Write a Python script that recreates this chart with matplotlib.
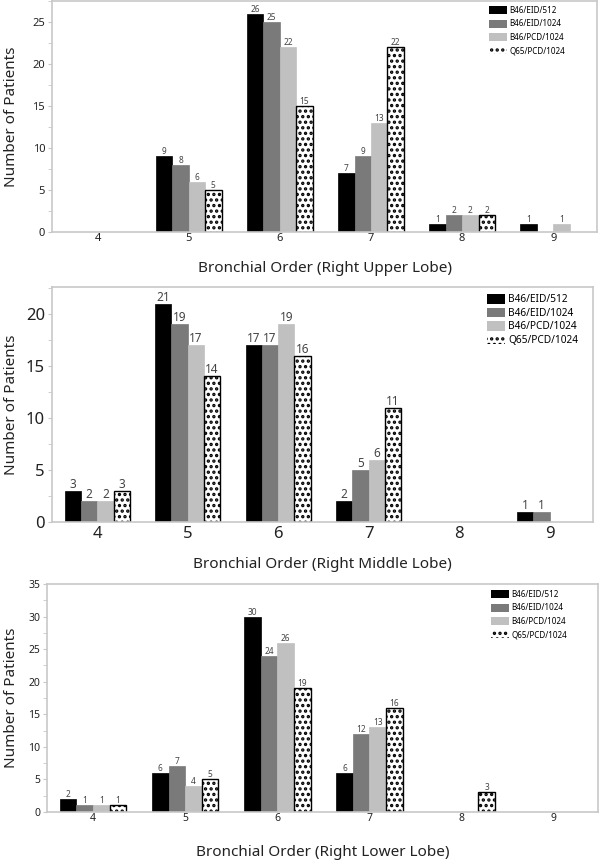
import matplotlib
matplotlib.use("Agg")
import matplotlib.pyplot as plt
from matplotlib.patches import Patch
from matplotlib.ticker import MultipleLocator
import numpy as np

plt.rcParams['font.family'] = ['Noto Sans', 'DejaVu Sans']
plt.rcParams['hatch.color'] = 'black'
plt.rcParams['hatch.linewidth'] = 1.6

# bronchial orders on the x axis
orders = [4, 5, 6, 7, 8, 9]
series_names = ["B46/EID/512", "B46/EID/1024", "B46/PCD/1024", "Q65/PCD/1024"]

# number of patients, one list per series (upper / middle / lower lobe)
upper_eid512 = [0, 9, 26, 7, 1, 1]
upper_eid1024 = [0, 8, 25, 9, 2, 0]
upper_pcd1024 = [0, 6, 22, 13, 2, 1]
upper_q65 = [0, 5, 15, 22, 2, 0]

middle_eid512 = [3, 21, 17, 2, 0, 1]
middle_eid1024 = [2, 19, 17, 5, 0, 1]
middle_pcd1024 = [2, 17, 19, 6, 0, 0]
middle_q65 = [3, 14, 16, 11, 0, 0]

lower_eid512 = [2, 6, 30, 6, 0, 0]
lower_eid1024 = [1, 7, 24, 12, 0, 0]
lower_pcd1024 = [1, 4, 26, 13, 0, 0]
lower_q65 = [1, 5, 19, 16, 3, 0]

lobes = ["Right Upper Lobe", "Right Middle Lobe", "Right Lower Lobe"]

fills = ['#000000', '#7a7a7a', '#c0c0c0', 'white']

fig = plt.figure(figsize=(6, 8.6), dpi=100)

# panel boxes in pixels: left, right, top, bottom
boxes = [(52, 597, 1, 232), (52, 593, 287, 522), (47, 598, 584, 812)]
ylims = [27.5, 22.6, 35]
tick_fs = [8, 12, 7.5]
val_fs = [6, 8.5, 6]
leg_fs = [5.8, 7.3, 5.8]
leg_pos = [(489, 6), (487, 294), (491, 590)]
leg_hl = [2.2, 1.8, 2.2]
leg_sp = [0.55, 0.22, 0.55]
xlab_y = [268, 565, 852]

data = [
    [upper_eid512, upper_eid1024, upper_pcd1024, upper_q65],
    [middle_eid512, middle_eid1024, middle_pcd1024, middle_q65],
    [lower_eid512, lower_eid1024, lower_pcd1024, lower_q65],
]

W, H = 600, 860
width = 0.18
x = np.array(orders, dtype=float)

for p in range(3):
    l, r, t, b = boxes[p]
    ax = fig.add_axes([l / W, 1 - b / H, (r - l) / W, (b - t) / H])
    for s in range(4):
        vals = np.array(data[p][s])
        keep = vals > 0
        xs = x[keep] + (s - 1.5) * width
        if s == 3:
            bars = ax.bar(xs, vals[keep], width, color='white', edgecolor='black',
                          linewidth=1.0, hatch='...')
        else:
            bars = ax.bar(xs, vals[keep], width, color=fills[s], edgecolor=fills[s],
                          linewidth=0.5)
        ax.bar_label(bars, labels=[str(v) for v in vals[keep]], padding=0,
                     fontsize=val_fs[p], color='#444444')

    ax.set_xlim(3.5, 9.48)
    ax.set_ylim(0, ylims[p])
    ax.set_xticks(orders)
    ax.yaxis.set_major_locator(MultipleLocator(5))
    ax.yaxis.set_minor_locator(MultipleLocator(2.5))
    for sp in ax.spines.values():
        sp.set_color('#c8c8c8')
        sp.set_linewidth(1.2)
    ax.tick_params(axis='x', length=0, pad=1 if p != 1 else 3,
                   labelsize=tick_fs[p], labelcolor='#222222')
    ax.tick_params(axis='y', which='major', length=3, color='#c8c8c8',
                   labelsize=tick_fs[p], labelcolor='#222222', pad=2)
    ax.tick_params(axis='y', which='minor', length=3, color='#c8c8c8')

    ax.set_ylabel("Number of Patients", fontsize=11, color='#222222')
    ax.yaxis.set_label_coords(12 / W, 1 - (t + b) / 2 / H, transform=fig.transFigure)
    ax.set_xlabel("Bronchial Order (" + lobes[p] + ")", fontsize=11, color='#222222')
    ax.xaxis.set_label_coords((l + r) / 2 / W, 1 - xlab_y[p] / H, transform=fig.transFigure)
    ax.xaxis.label.set_va('center')
    ax.yaxis.label.set_va('center')

    handles = []
    for s in range(4):
        if s == 3:
            handles.append(Patch(facecolor='white', edgecolor='black', linewidth=0,
                                 hatch='...'))
        else:
            handles.append(Patch(facecolor=fills[s], edgecolor='none'))
    lx, ly = leg_pos[p]
    ax.legend(handles, series_names, loc='upper left', frameon=False,
              fontsize=leg_fs[p], handlelength=leg_hl[p], handleheight=1.1,
              handletextpad=0.3, labelspacing=leg_sp[p], borderaxespad=0,
              borderpad=0, bbox_to_anchor=(lx / W, 1 - ly / H),
              bbox_transform=fig.transFigure)

fig.savefig("out.png", dpi=100)
